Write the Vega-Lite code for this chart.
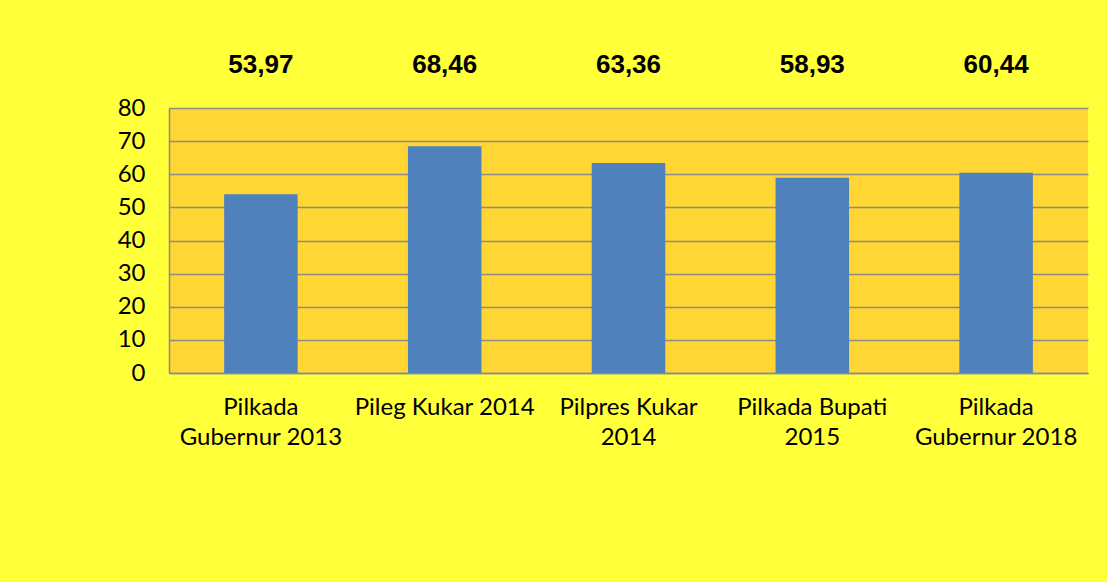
{
  "$schema": "https://vega.github.io/schema/vega-lite/v6.json",
  "width": 919,
  "height": 265,
  "autosize": {"type": "none"},
  "padding": {"left": 169, "top": 108, "right": 19, "bottom": 209},
  "background": "#FFFF3A",
  "data": {
    "values": [
      {"kategori": "Pilkada|Gubernur 2013", "nilai": 53.97},
      {"kategori": "Pileg Kukar 2014", "nilai": 68.46},
      {"kategori": "Pilpres Kukar|2014", "nilai": 63.36},
      {"kategori": "Pilkada Bupati|2015", "nilai": 58.93},
      {"kategori": "Pilkada|Gubernur 2018", "nilai": 60.44}
    ]
  },
  "encoding": {
    "x": {
      "field": "kategori",
      "type": "nominal",
      "sort": null,
      "scale": {"paddingInner": 0.6, "paddingOuter": 0.3},
      "axis": {
        "title": null,
        "labelAngle": 0,
        "labelExpr": "split(datum.label, '|')",
        "labelFont": "Lato",
        "labelFontSize": 24,
        "labelLineHeight": 30,
        "labelColor": "#000000",
        "labelPadding": 22,
        "ticks": false,
        "tickSize": 0,
        "domainColor": "#8C8C8C",
        "domainWidth": 1.5,
        "labelLimit": 300
      }
    }
  },
  "layer": [
    {
      "mark": {"type": "bar", "color": "#4F81BD"},
      "encoding": {
        "y": {
          "field": "nilai",
          "type": "quantitative",
          "scale": {"domain": [0, 80]},
          "axis": {
            "title": null,
            "values": [0, 10, 20, 30, 40, 50, 60, 70, 80],
            "labelOverlap": false,
            "format": "d",
            "labelFont": "Lato",
            "labelFontSize": 24,
            "labelColor": "#000000",
            "labelPadding": 24,
            "ticks": false,
            "tickSize": 0,
            "domainColor": "#8C8C8C",
            "domainWidth": 1.5,
            "grid": true,
            "gridColor": "#8C8C8C",
            "gridWidth": 1.5,
            "gridOpacity": 1,
            "zindex": 0
          }
        }
      }
    },
    {
      "mark": {
        "type": "text",
        "font": "Liberation Sans",
        "fontWeight": "bold",
        "fontSize": 26,
        "color": "#000000",
        "baseline": "middle",
        "dy": -43,
        "clip": false
      },
      "encoding": {
        "y": {
          "datum": 80,
          "type": "quantitative",
          "axis": {
            "title": null,
            "values": [0, 10, 20, 30, 40, 50, 60, 70, 80],
            "labelOverlap": false,
            "format": "d",
            "labelFont": "Lato",
            "labelFontSize": 24,
            "labelColor": "#000000",
            "labelPadding": 24,
            "ticks": false,
            "tickSize": 0,
            "domainColor": "#8C8C8C",
            "domainWidth": 1.5,
            "grid": true,
            "gridColor": "#8C8C8C",
            "gridWidth": 1.5,
            "gridOpacity": 1,
            "zindex": 0
          }
        },
        "text": {"field": "nilai", "type": "quantitative", "format": ".2f"}
      }
    }
  ],
  "config": {
    "view": {"fill": "#FFD633", "stroke": null},
    "locale": {
      "number": {"decimal": ",", "thousands": ".", "grouping": [3], "currency": ["", ""]}
    }
  }
}
